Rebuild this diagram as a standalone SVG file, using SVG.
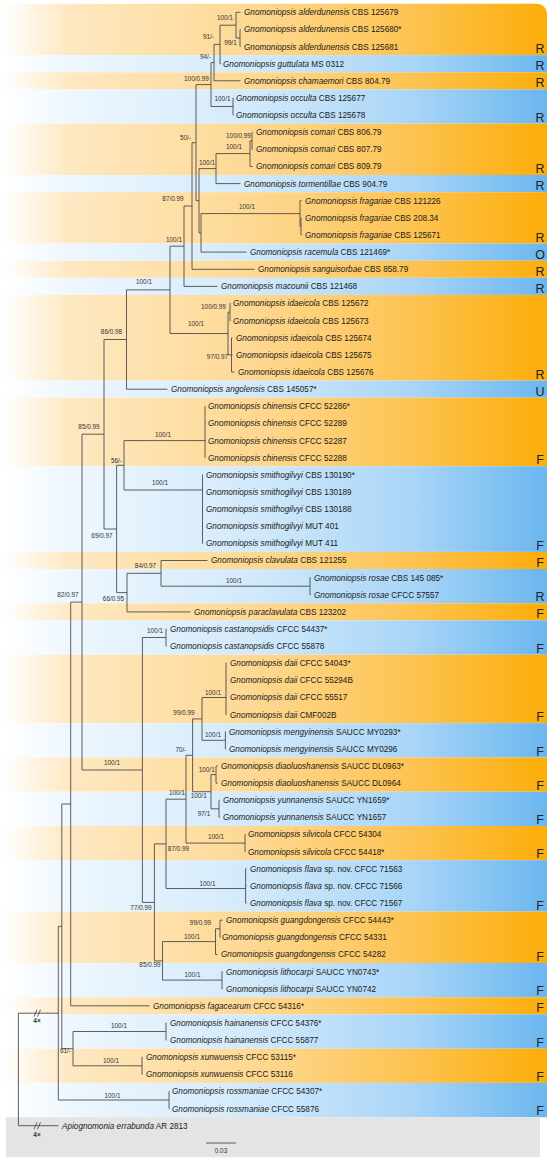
<svg xmlns="http://www.w3.org/2000/svg" width="550" height="1161" viewBox="0 0 550 1161">
<defs>
<linearGradient id="go" gradientUnits="userSpaceOnUse" x1="4" y1="0" x2="547" y2="0">
<stop offset="0" stop-color="#ffffff"/><stop offset="0.12" stop-color="#fee8c2"/><stop offset="0.45" stop-color="#fed994"/><stop offset="0.75" stop-color="#fdc352"/><stop offset="1" stop-color="#fcad08"/>
</linearGradient>
<linearGradient id="gb" gradientUnits="userSpaceOnUse" x1="4" y1="0" x2="547" y2="0">
<stop offset="0" stop-color="#ffffff"/><stop offset="0.12" stop-color="#eef7fe"/><stop offset="0.45" stop-color="#d3eafb"/><stop offset="0.75" stop-color="#a9d5f7"/><stop offset="1" stop-color="#6ab6ef"/>
</linearGradient>
</defs>
<style>
.o{fill:url(#go)}
.b{fill:url(#gb)}
.t{font-family:"Liberation Sans",Arial,sans-serif;font-size:8.2px;fill:#1a1a1a}
.i{font-style:italic}
.s{font-family:"Liberation Sans",Arial,sans-serif;font-size:6.4px;fill:#333;text-anchor:middle}
.l{font-family:"Liberation Sans",Arial,sans-serif;font-size:12.5px;fill:#222;text-anchor:middle}
.e{fill:none;stroke:#4d4d4d;stroke-width:0.9}
</style>
<rect width="550" height="1161" fill="#ffffff"/>
<g id="bands">
<path class="o" d="M4,3.7 H537 A10,10 0 0 1 547,13.7 V55.1 H4 Z"/>
<rect class="b" x="4" y="55.1" width="543" height="17.2"/>
<rect class="o" x="4" y="72.3" width="543" height="17.1"/>
<rect class="b" x="4" y="89.4" width="543" height="34.2"/>
<rect class="o" x="4" y="123.6" width="543" height="51.4"/>
<rect class="b" x="4" y="175" width="543" height="17.2"/>
<rect class="o" x="4" y="192.2" width="543" height="51.4"/>
<rect class="b" x="4" y="243.6" width="543" height="17.1"/>
<rect class="o" x="4" y="260.7" width="543" height="17.1"/>
<rect class="b" x="4" y="277.8" width="543" height="17.1"/>
<rect class="o" x="4" y="294.9" width="543" height="85.7"/>
<rect class="b" x="4" y="380.6" width="543" height="17.1"/>
<rect class="o" x="4" y="397.7" width="543" height="68.5"/>
<rect class="b" x="4" y="466.2" width="543" height="85.7"/>
<rect class="o" x="4" y="551.9" width="543" height="17.1"/>
<rect class="b" x="4" y="569" width="543" height="34.3"/>
<rect class="o" x="4" y="603.3" width="543" height="17.1"/>
<rect class="b" x="4" y="620.4" width="543" height="34.3"/>
<rect class="o" x="4" y="654.7" width="543" height="68.5"/>
<rect class="b" x="4" y="723.2" width="543" height="34.3"/>
<rect class="o" x="4" y="757.5" width="543" height="34.2"/>
<rect class="b" x="4" y="791.7" width="543" height="34.3"/>
<rect class="o" x="4" y="826" width="543" height="34.2"/>
<rect class="b" x="4" y="860.2" width="543" height="51.4"/>
<rect class="o" x="4" y="911.6" width="543" height="51.4"/>
<rect class="b" x="4" y="963" width="543" height="34.3"/>
<rect class="o" x="4" y="997.3" width="543" height="17.1"/>
<rect class="b" x="4" y="1014.4" width="543" height="34.3"/>
<rect class="o" x="4" y="1048.7" width="543" height="34.2"/>
<rect class="b" x="4" y="1082.9" width="543" height="34.3"/>
<rect x="6" y="1117.2" width="534" height="40" fill="#e4e4e4"/>
</g>
<g id="hosts">
<text class="l" x="540" y="53">R</text>
<text class="l" x="540" y="70.3">R</text>
<text class="l" x="540" y="87.4">R</text>
<text class="l" x="540" y="121.6">R</text>
<text class="l" x="540" y="173">R</text>
<text class="l" x="540" y="190.2">R</text>
<text class="l" x="540" y="241.6">R</text>
<text class="l" x="540" y="258.7">O</text>
<text class="l" x="540" y="275.8">R</text>
<text class="l" x="540" y="292.9">R</text>
<text class="l" x="540" y="378.6">R</text>
<text class="l" x="540" y="395.7">U</text>
<text class="l" x="540" y="464.2">F</text>
<text class="l" x="540" y="549.9">F</text>
<text class="l" x="540" y="567">F</text>
<text class="l" x="540" y="601.3">R</text>
<text class="l" x="540" y="618.4">F</text>
<text class="l" x="540" y="652.7">F</text>
<text class="l" x="540" y="721.2">F</text>
<text class="l" x="540" y="755.5">F</text>
<text class="l" x="540" y="789.7">F</text>
<text class="l" x="540" y="824">F</text>
<text class="l" x="540" y="858.2">F</text>
<text class="l" x="540" y="909.6">F</text>
<text class="l" x="540" y="961">F</text>
<text class="l" x="540" y="995.3">F</text>
<text class="l" x="540" y="1012.4">F</text>
<text class="l" x="540" y="1046.7">F</text>
<text class="l" x="540" y="1080.9">F</text>
<text class="l" x="540" y="1115.2">F</text>
</g>
<g id="connectors" class="e">
<path d="M236,12.3V38 M236,12.3H240.5 M236,38H240 M240,29.4V46.6 M240,29.4H240.5 M240,46.6H240.5"/>
<path d="M220,25.2V63.7 M220,25.2H236 M220,63.7H221"/>
<path d="M214,44.4V80.8 M214,44.4H220 M214,80.8H240.5"/>
<path d="M233,98V115.1 M233,98H233.6 M233,115.1H233.6"/>
<path d="M211,62.6V106.5 M211,62.6H214 M211,106.5H233"/>
<path d="M252,132.2V149.3 M252,132.2H252.6 M252,149.3H252.6"/>
<path d="M250,140.8V166.5 M250,140.8H252 M250,166.5H252.6"/>
<path d="M216,153.6V183.6 M216,153.6H250 M216,183.6H240.5"/>
<path d="M301,217.9V235 M301,217.9H301.6 M301,235H301.6"/>
<path d="M300,200.7V226.4 M300,226.4H301 M300,200.7H301.6"/>
<path d="M201,213.6V252.1 M201,213.6H300 M201,252.1H246.5"/>
<path d="M199,168.6V232.9 M199,168.6H216 M199,232.9H201"/>
<path d="M196,84.6V200.7 M196,84.6H211 M196,200.7H199"/>
<path d="M192,142.7V269.3 M192,142.7H196 M192,269.3H254.5"/>
<path d="M184,206V286.4 M184,206H192 M184,286.4H217.5"/>
<path d="M230,303.5V320.6 M230,303.5H230.6 M230,320.6H230.6"/>
<path d="M231.5,337.8V372 M231.5,337.8H232.5 M231.5,354.9H232.5 M231.5,372H234.5"/>
<path d="M228,312.1V354.9 M228,312.1H230 M228,354.9H231.5"/>
<path d="M170,246.2V333.5 M170,246.2H184 M170,333.5H228"/>
<path d="M126.5,289.9V389.2 M126.5,289.9H170 M126.5,389.2H167.5"/>
<path d="M205,406.3V457.7 M205,406.3H205.6 M205,423.4H205.6 M205,440.6H205.6 M205,457.7H205.6"/>
<path d="M202.5,474.8V543.3 M202.5,474.8H203 M202.5,491.9H203 M202.5,509.1H203 M202.5,526.2H203 M202.5,543.3H203"/>
<path d="M124,440.6V490 M124,440.6H205 M124,490H202.5"/>
<path d="M310,577.6V594.7 M310,577.6H310.6 M310,594.7H310.6"/>
<path d="M161,560.5V586.2 M161,560.5H207.5 M161,586.2H310"/>
<path d="M127,573.3V611.9 M127,573.3H161 M127,611.9H190.5"/>
<path d="M116.6,465.3V592.6 M116.6,465.3H124 M116.6,592.6H127"/>
<path d="M104,339.5V529 M104,339.5H126.5 M104,529H116.6"/>
<path d="M166,629V646.1 M166,629H166.6 M166,646.1H166.6"/>
<path d="M226,663.2V714.6 M226,663.2H226.6 M226,680.4H226.6 M226,697.5H226.6 M226,714.6H226.6"/>
<path d="M225.4,731.8V748.9 M225.4,731.8H226 M225.4,748.9H226"/>
<path d="M202,697.5V740.3 M202,697.5H226 M202,740.3H225.4"/>
<path d="M216,766V783.2 M216,766H217.5 M216,783.2H217.5"/>
<path d="M219,800.3V817.4 M219,800.3H219.6 M219,817.4H219.6"/>
<path d="M211,774.6V808.8 M211,774.6H216 M211,808.8H219"/>
<path d="M192.6,718.9V791.7 M192.6,718.9H202 M192.6,791.7H211"/>
<path d="M245,834.5V851.7 M245,834.5H245.6 M245,851.7H245.6"/>
<path d="M186,755.3V843.1 M186,755.3H192.6 M186,843.1H245"/>
<path d="M245.6,868.8V903.1 M245.6,868.8H246.5 M245.6,885.9H246.5 M245.6,903.1H246.5"/>
<path d="M166,799.2V888.5 M166,799.2H186 M166,888.5H245.6"/>
<path d="M220,920.2V937.3 M220,920.2H222.5 M220,937.3H220.6"/>
<path d="M215.5,928.8V954.5 M215.5,928.8H220 M215.5,954.5H217.5"/>
<path d="M222,971.6V988.7 M222,971.6H222.6 M222,988.7H222.6"/>
<path d="M162.5,941.6V980.1 M162.5,941.6H215.5 M162.5,980.1H222"/>
<path d="M154.4,843.9V960.9 M154.4,843.9H166 M154.4,960.9H162.5"/>
<path d="M142.4,637.5V902.4 M142.4,637.5H166 M142.4,902.4H154.4"/>
<path d="M82,434.2V770 M82,434.2H104 M82,770H142.4"/>
<path d="M70.7,602.1V1005.8 M70.7,602.1H82 M70.7,1005.8H149.5"/>
<path d="M166,1023V1040.1 M166,1023H166.6 M166,1040.1H166.6"/>
<path d="M142,1057.2V1074.4 M142,1057.2H142.6 M142,1074.4H142.6"/>
<path d="M73,1031.5V1065.8 M73,1031.5H166 M73,1065.8H142"/>
<path d="M61.8,804V1048.7 M61.8,804H70.7 M61.8,1048.7H73"/>
<path d="M169,1091.5V1108.6 M169,1091.5H169.6 M169,1108.6H169.6"/>
<path d="M58.3,926.3V1100 M58.3,926.3H61.8 M58.3,1100H169"/>
<path d="M18.4,1013.2V1125.7 M18.4,1013.2H58.3 M18.4,1125.7H58.5"/>
<path d="M34,1016.7L37,1009.7 M37.5,1016.7L40.5,1009.7 M34,1129.2L37,1122.2 M37.5,1129.2L40.5,1122.2"/>
<path d="M206,1143H236"/>
</g>
<g id="support">
<text class="s" x="225" y="20.3">100/1</text>
<text class="s" x="230.5" y="45.3">99/1</text>
<text class="s" x="208.5" y="39.3">91/-</text>
<text class="s" x="205.5" y="59.3">94/-</text>
<text class="s" x="196.5" y="81.3">100/0.99</text>
<text class="s" x="222.5" y="101.3">100/1</text>
<text class="s" x="185.5" y="140.3">50/-</text>
<text class="s" x="238.5" y="138.3">100/0.99</text>
<text class="s" x="234" y="149.3">100/1</text>
<text class="s" x="207" y="165.3">100/1</text>
<text class="s" x="173" y="201.3">87/0.99</text>
<text class="s" x="247" y="209.3">100/1</text>
<text class="s" x="174" y="242.3">100/1</text>
<text class="s" x="144" y="284.3">100/1</text>
<text class="s" x="213.5" y="309.3">100/0.99</text>
<text class="s" x="196" y="326.3">100/1</text>
<text class="s" x="217.5" y="359.3">97/0.97</text>
<text class="s" x="111.5" y="334.3">86/0.98</text>
<text class="s" x="89" y="429.3">85/0.99</text>
<text class="s" x="163" y="437.3">100/1</text>
<text class="s" x="116.5" y="463.3">56/-</text>
<text class="s" x="160" y="485.3">100/1</text>
<text class="s" x="102" y="538.3">69/0.97</text>
<text class="s" x="145.5" y="568.3">84/0.97</text>
<text class="s" x="234" y="583.3">100/1</text>
<text class="s" x="68" y="597.3">82/0.97</text>
<text class="s" x="113.5" y="601.3">66/0.95</text>
<text class="s" x="155" y="633.3">100/1</text>
<text class="s" x="213" y="695">100/1</text>
<text class="s" x="184" y="715.3">99/0.99</text>
<text class="s" x="213" y="737.3">100/1</text>
<text class="s" x="181" y="752.3">70/-</text>
<text class="s" x="112" y="765.3">100/1</text>
<text class="s" x="206.7" y="771.6">100/1</text>
<text class="s" x="177" y="795.3">100/1</text>
<text class="s" x="198.7" y="798.3">100/1</text>
<text class="s" x="204" y="816.3">97/1</text>
<text class="s" x="216" y="839">100/1</text>
<text class="s" x="178.5" y="851.3">87/0.99</text>
<text class="s" x="207.5" y="886">100/1</text>
<text class="s" x="141" y="910.3">77/0.99</text>
<text class="s" x="200.5" y="925.3">99/0.99</text>
<text class="s" x="192" y="939">100/1</text>
<text class="s" x="150" y="967.3">85/0.99</text>
<text class="s" x="192.5" y="977.3">100/1</text>
<text class="s" x="119" y="1028.3">100/1</text>
<text class="s" x="65.5" y="1053.3">61/-</text>
<text class="s" x="111" y="1063.3">100/1</text>
<text class="s" x="112.5" y="1098">100/1</text>
<text class="s" x="37" y="1023" font-weight="bold" font-size="6.5">4×</text>
<text class="s" x="37" y="1136.5" font-weight="bold" font-size="6.5">4×</text>
<text class="s" x="221" y="1153" font-size="5.5">0.03</text>
</g>
<g id="taxa" class="t">
<g id="n0"><text x="244" y="15.2"><tspan class="i">Gnomoniopsis alderdunensis</tspan> CBS 125679</text></g>
<g id="n1"><text x="244" y="32.3"><tspan class="i">Gnomoniopsis alderdunensis</tspan> CBS 125680*</text></g>
<g id="n2"><text x="244" y="49.5"><tspan class="i">Gnomoniopsis alderdunensis</tspan> CBS 125681</text></g>
<g id="n3"><text x="223" y="66.6"><tspan class="i">Gnomoniopsis guttulata</tspan> MS 0312</text></g>
<g id="n4"><text x="244" y="83.7"><tspan class="i">Gnomoniopsis chamaemori</tspan> CBS 804.79</text></g>
<g id="n5"><text x="236" y="100.9"><tspan class="i">Gnomoniopsis occulta</tspan> CBS 125677</text></g>
<g id="n6"><text x="236" y="118"><tspan class="i">Gnomoniopsis occulta</tspan> CBS 125678</text></g>
<g id="n7"><text x="256" y="135.1"><tspan class="i">Gnomoniopsis comari</tspan> CBS 806.79</text></g>
<g id="n8"><text x="256" y="152.2"><tspan class="i">Gnomoniopsis comari</tspan> CBS 807.79</text></g>
<g id="n9"><text x="256" y="169.4"><tspan class="i">Gnomoniopsis comari</tspan> CBS 809.79</text></g>
<g id="n10"><text x="244" y="186.5"><tspan class="i">Gnomoniopsis tormentillae</tspan> CBS 904.79</text></g>
<g id="n11"><text x="305" y="203.6"><tspan class="i">Gnomoniopsis fragariae</tspan> CBS 121226</text></g>
<g id="n12"><text x="305" y="220.8"><tspan class="i">Gnomoniopsis fragariae</tspan> CBS 208.34</text></g>
<g id="n13"><text x="305" y="237.9"><tspan class="i">Gnomoniopsis fragariae</tspan> CBS 125671</text></g>
<g id="n14"><text x="250" y="255"><tspan class="i">Gnomoniopsis racemula</tspan> CBS 121469*</text></g>
<g id="n15"><text x="258" y="272.2"><tspan class="i">Gnomoniopsis sanguisorbae</tspan> CBS 858.79</text></g>
<g id="n16"><text x="221" y="289.3"><tspan class="i">Gnomoniopsis macounii</tspan> CBS 121468</text></g>
<g id="n17"><text x="233" y="306.4"><tspan class="i">Gnomoniopsis idaeicola</tspan> CBS 125672</text></g>
<g id="n18"><text x="233" y="323.5"><tspan class="i">Gnomoniopsis idaeicola</tspan> CBS 125673</text></g>
<g id="n19"><text x="236" y="340.7"><tspan class="i">Gnomoniopsis idaeicola</tspan> CBS 125674</text></g>
<g id="n20"><text x="236" y="357.8"><tspan class="i">Gnomoniopsis idaeicola</tspan> CBS 125675</text></g>
<g id="n21"><text x="238" y="374.9"><tspan class="i">Gnomoniopsis idaeicola</tspan> CBS 125676</text></g>
<g id="n22"><text x="171" y="392.1"><tspan class="i">Gnomoniopsis angolensis</tspan> CBS 145057*</text></g>
<g id="n23"><text x="208" y="409.2"><tspan class="i">Gnomoniopsis chinensis</tspan> CFCC 52286*</text></g>
<g id="n24"><text x="208" y="426.3"><tspan class="i">Gnomoniopsis chinensis</tspan> CFCC 52289</text></g>
<g id="n25"><text x="208" y="443.5"><tspan class="i">Gnomoniopsis chinensis</tspan> CFCC 52287</text></g>
<g id="n26"><text x="208" y="460.6"><tspan class="i">Gnomoniopsis chinensis</tspan> CFCC 52288</text></g>
<g id="n27"><text x="206" y="477.7"><tspan class="i">Gnomoniopsis smithogilvyi</tspan> CBS 130190*</text></g>
<g id="n28"><text x="206" y="494.8"><tspan class="i">Gnomoniopsis smithogilvyi</tspan> CBS 130189</text></g>
<g id="n29"><text x="206" y="512"><tspan class="i">Gnomoniopsis smithogilvyi</tspan> CBS 130188</text></g>
<g id="n30"><text x="206" y="529.1"><tspan class="i">Gnomoniopsis smithogilvyi</tspan> MUT 401</text></g>
<g id="n31"><text x="206" y="546.2"><tspan class="i">Gnomoniopsis smithogilvyi</tspan> MUT 411</text></g>
<g id="n32"><text x="211" y="563.4"><tspan class="i">Gnomoniopsis clavulata</tspan> CBS 121255</text></g>
<g id="n33"><text x="314" y="580.5"><tspan class="i">Gnomoniopsis rosae</tspan> CBS 145 085*</text></g>
<g id="n34"><text x="314" y="597.6"><tspan class="i">Gnomoniopsis rosae</tspan> CFCC 57557</text></g>
<g id="n35"><text x="194" y="614.8"><tspan class="i">Gnomoniopsis paraclavulata</tspan> CBS 123202</text></g>
<g id="n36"><text x="170" y="631.9"><tspan class="i">Gnomoniopsis castanopsidis</tspan> CFCC 54437*</text></g>
<g id="n37"><text x="170" y="649"><tspan class="i">Gnomoniopsis castanopsidis</tspan> CFCC 55878</text></g>
<g id="n38"><text x="230" y="666.1"><tspan class="i">Gnomoniopsis daii</tspan> CFCC 54043*</text></g>
<g id="n39"><text x="230" y="683.3"><tspan class="i">Gnomoniopsis daii</tspan> CFCC 55294B</text></g>
<g id="n40"><text x="230" y="700.4"><tspan class="i">Gnomoniopsis daii</tspan> CFCC 55517</text></g>
<g id="n41"><text x="230" y="717.5"><tspan class="i">Gnomoniopsis daii</tspan> CMF002B</text></g>
<g id="n42"><text x="229" y="734.7"><tspan class="i">Gnomoniopsis mengyinensis</tspan> SAUCC MY0293*</text></g>
<g id="n43"><text x="229" y="751.8"><tspan class="i">Gnomoniopsis mengyinensis</tspan> SAUCC MY0296</text></g>
<g id="n44"><text x="221" y="768.9"><tspan class="i">Gnomoniopsis diaoluoshanensis</tspan> SAUCC DL0963*</text></g>
<g id="n45"><text x="221" y="786.1"><tspan class="i">Gnomoniopsis diaoluoshanensis</tspan> SAUCC DL0964</text></g>
<g id="n46"><text x="223" y="803.2"><tspan class="i">Gnomoniopsis yunnanensis</tspan> SAUCC YN1659*</text></g>
<g id="n47"><text x="223" y="820.3"><tspan class="i">Gnomoniopsis yunnanensis</tspan> SAUCC YN1657</text></g>
<g id="n48"><text x="248" y="837.4"><tspan class="i">Gnomoniopsis silvicola</tspan> CFCC 54304</text></g>
<g id="n49"><text x="248" y="854.6"><tspan class="i">Gnomoniopsis silvicola</tspan> CFCC 54418*</text></g>
<g id="n50"><text x="250" y="871.7"><tspan class="i">Gnomoniopsis flava</tspan> sp. nov. CFCC 71563</text></g>
<g id="n51"><text x="250" y="888.8"><tspan class="i">Gnomoniopsis flava</tspan> sp. nov. CFCC 71566</text></g>
<g id="n52"><text x="250" y="906"><tspan class="i">Gnomoniopsis flava</tspan> sp. nov. CFCC 71567</text></g>
<g id="n53"><text x="226" y="923.1"><tspan class="i">Gnomoniopsis guangdongensis</tspan> CFCC 54443*</text></g>
<g id="n54"><text x="222" y="940.2"><tspan class="i">Gnomoniopsis guangdongensis</tspan> CFCC 54331</text></g>
<g id="n55"><text x="221" y="957.4"><tspan class="i">Gnomoniopsis guangdongensis</tspan> CFCC 54282</text></g>
<g id="n56"><text x="226" y="974.5"><tspan class="i">Gnomoniopsis lithocarpi</tspan> SAUCC YN0743*</text></g>
<g id="n57"><text x="226" y="991.6"><tspan class="i">Gnomoniopsis lithocarpi</tspan> SAUCC YN0742</text></g>
<g id="n58"><text x="153" y="1008.7"><tspan class="i">Gnomoniopsis fagacearum</tspan> CFCC 54316*</text></g>
<g id="n59"><text x="170" y="1025.9"><tspan class="i">Gnomoniopsis hainanensis</tspan> CFCC 54376*</text></g>
<g id="n60"><text x="170" y="1043"><tspan class="i">Gnomoniopsis hainanensis</tspan> CFCC 55877</text></g>
<g id="n61"><text x="146" y="1060.1"><tspan class="i">Gnomoniopsis xunwuensis</tspan> CFCC 53115*</text></g>
<g id="n62"><text x="146" y="1077.3"><tspan class="i">Gnomoniopsis xunwuensis</tspan> CFCC 53116</text></g>
<g id="n63"><text x="172" y="1094.4"><tspan class="i">Gnomoniopsis rossmaniae</tspan> CFCC 54307*</text></g>
<g id="n64"><text x="172" y="1111.5"><tspan class="i">Gnomoniopsis rossmaniae</tspan> CFCC 55876</text></g>
<g id="n65"><text x="62" y="1128.6"><tspan class="i">Apiognomonia errabunda</tspan> AR 2813</text></g>
</g>
</svg>
